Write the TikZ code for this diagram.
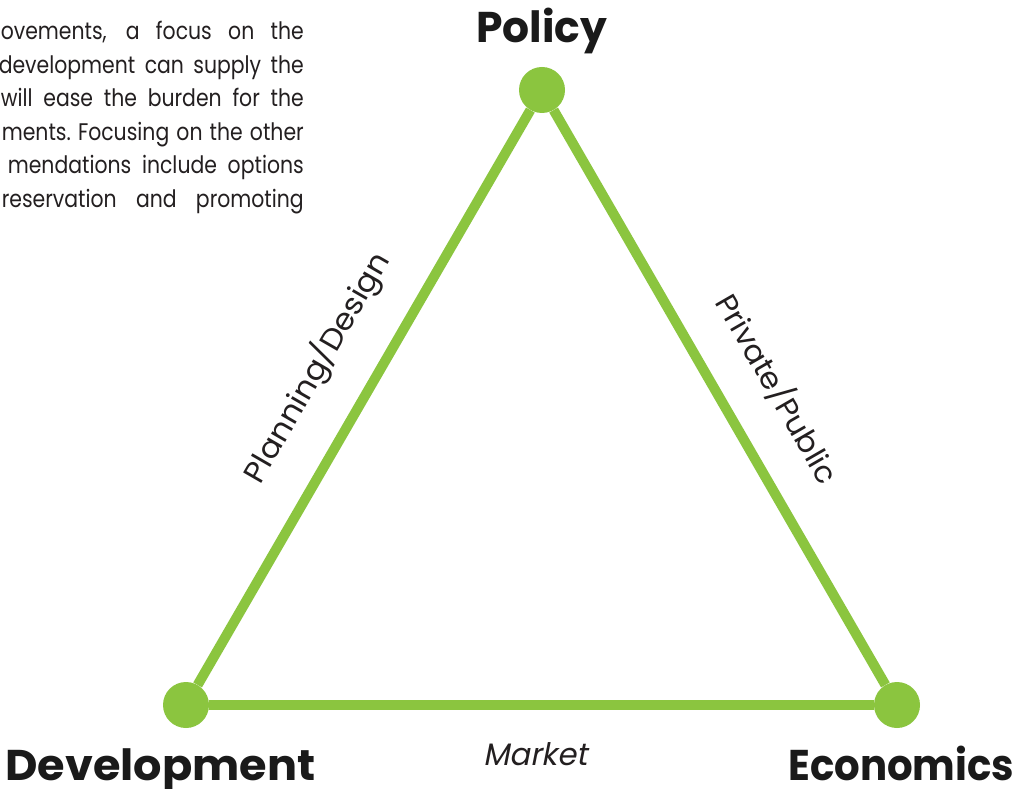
\documentclass[tikz,border=0pt]{standalone}
\usepackage{fontspec}
\usepackage{graphicx}
\setmainfont{Poppins}
\newfontfamily\bodyfont[FakeStretch=0.85]{Poppins}
\newfontfamily\oblfont[FakeSlant=0.2]{Poppins}
\usetikzlibrary{calc}
\definecolor{tgreen}{RGB}{139,197,63}
\definecolor{ink}{RGB}{35,31,32}
\definecolor{titleink}{RGB}{26,26,26}
\newsavebox\jbox
\newcommand\jline[2]{\sbox\jbox{#2}\ifdim\wd\jbox>#1\relax\resizebox{#1}{\height}{\usebox\jbox}\else\makebox[#1][s]{#2}\fi}
\newcommand\ttltext[2]{\resizebox{#1}{\height}{\fontsize{43}{43}\selectfont\bfseries #2}}
\newcommand\lbltext[2]{\resizebox{#1}{\height}{\fontsize{30}{30}\selectfont #2}}
\tikzset{
  hub/.style={circle, fill=tgreen, minimum size=46pt, inner sep=0pt},
  link/.style={draw=tgreen, line width=10pt},
  title/.style={anchor=base west, inner sep=0pt, text=titleink},
  bodyline/.style={anchor=base east, inner sep=0pt, text=ink, font=\bodyfont\fontsize{24}{24}\selectfont},
  edgelabel/.style={inner sep=0pt, text=ink},
}
\begin{document}
\begin{tikzpicture}[x=1pt,y=1pt]
\fill[white] (0,0) rectangle (1030,788);
\useasboundingbox (0,0) rectangle (1030,788);

% body text (cropped paragraph)
\node[bodyline] (l1) at (304,748) {\jline{303pt}{ovements, a focus on the}};
\node[bodyline] (l2) at (304,714.5) {\jline{305pt}{development can supply the}};
\node[bodyline] (l3) at (304,681) {\jline{303pt}{will ease the burden for the}};
\node[bodyline] (l4) at (304,647.5) {\jline{302pt}{ments.\ Focusing on the other}};
\node[bodyline] (l5) at (304,614) {\jline{296pt}{mendations include options}};
\node[bodyline] (l6) at (304,580.5) {\jline{302pt}{reservation and promoting}};

% hubs
\node[hub] (pol) at (542,698) {};
\node[hub] (dev) at (186,83) {};
\node[hub] (eco) at (897,83) {};

% links
\draw[link] (dev) -- (pol);
\draw[link] (pol) -- (eco);
\draw[link] (dev) -- (eco);

% titles
\node[title] (tpol) at (476,745) {\ttltext{131pt}{Policy}};
\node[title] (tdev) at (5,8) {\ttltext{310pt}{Development}};
\node[title] (teco) at (788,8) {\ttltext{226pt}{Economics}};

% edge labels
\coordinate (m1) at ($(dev)!0.503!(pol)$);
\coordinate (m2) at ($(pol)!0.53!(eco)$);
\node[edgelabel, rotate=60] (lplan) at ($(m1)!56pt!90:(pol)$) {\lbltext{260pt}{Planning/Design}};
\node[edgelabel, rotate=-60] (lpriv) at ($(m2)!55pt!90:(eco)$) {\lbltext{213pt}{Private/Public}};
\node[anchor=base west, inner sep=0pt, text=ink] (lmkt) at (483,23) {\resizebox{104pt}{\height}{\oblfont\fontsize{31}{31}\selectfont Market}};
\end{tikzpicture}
\end{document}
